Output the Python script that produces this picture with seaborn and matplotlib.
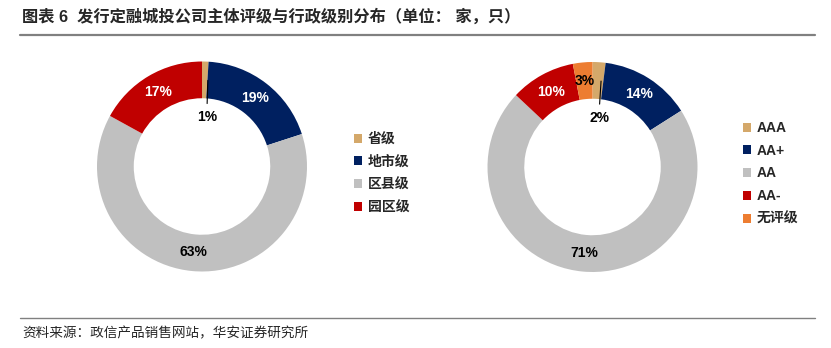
import numpy as np
import matplotlib
matplotlib.use("Agg")
import matplotlib.pyplot as plt
from matplotlib.lines import Line2D
import seaborn as sns

# ---- data ----
admin_labels = ["省级", "地市级", "区县级", "园区级"]
admin_values = [1, 19, 63, 17]
rating_labels = ["AAA", "AA+", "AA", "AA-", "无评级"]
rating_values = [2, 14, 71, 10, 3]

title = "图表 6  发行定融城投公司主体评级与行政级别分布（单位： 家，只）"
source = "资料来源：政信产品销售网站，华安证券研究所"

GOLD, NAVY, GREY, RED, ORANGE = "#D4A86A", "#002060", "#C0C0C0", "#C00000", "#ED7D31"
admin_colors = [GOLD, NAVY, GREY, RED]
rating_colors = [GOLD, NAVY, GREY, RED, ORANGE]
admin_txt = ["black", "white", "black", "white"]
rating_txt = ["black", "white", "black", "white", "black"]

sns.set_theme(style="white")
plt.rcParams["font.family"] = ["Liberation Sans", "Noto Sans CJK SC", "DejaVu Sans"]

W, H = 831, 348
fig = plt.figure(figsize=(W / 100, H / 100), dpi=100)


def px_axes(cx, cy, r):
    return fig.add_axes([(cx - r) / W, (H - cy - r) / H, 2 * r / W, 2 * r / H])


def donut(ax, values, colors, txtcolors, small_idx):
    wedges, _ = ax.pie(values, colors=colors, startangle=90, counterclock=False,
                       wedgeprops=dict(width=0.35, linewidth=0))
    for i, (w, v) in enumerate(zip(wedges, values)):
        ang = np.deg2rad((w.theta1 + w.theta2) / 2)
        if i in small_idx:
            x0, y0 = 0.82 * np.cos(ang), 0.82 * np.sin(ang)
            x1, y1 = 0.60 * np.cos(ang), 0.60 * np.sin(ang)
            ax.plot([x0 + 0.03, x1 + 0.03], [y0, y1], color="black", lw=0.8)
            ax.text(x1 + 0.03, 0.47, f"{v}%", ha="center", va="center",
                    fontsize=10, fontweight="bold", color="black")
        else:
            r = 0.82
            ax.text(r * np.cos(ang), r * np.sin(ang), f"{v}%", ha="center", va="center",
                    fontsize=10, fontweight="bold", color=txtcolors[i])
    ax.set_xlim(-1, 1)
    ax.set_ylim(-1, 1)
    ax.axis("off")
    return wedges


ax1 = px_axes(202, 166.5, 105)
w1 = donut(ax1, admin_values, admin_colors, admin_txt, [0])
ax2 = px_axes(592.5, 167, 105)
w2 = donut(ax2, rating_values, rating_colors, rating_txt, [0])

leg_kw = dict(loc="upper left", frameon=False, handlelength=0.6, handleheight=0.6,
              handletextpad=0.4, borderaxespad=0, borderpad=0, labelspacing=0.63,
              prop=dict(size=10, weight="bold"))
fig.legend(w1, admin_labels, bbox_to_anchor=(354 / W, 1 - 132 / H), **leg_kw)
fig.legend(w2, rating_labels, bbox_to_anchor=(743 / W, 1 - 121 / H), **leg_kw)

fig.text(22 / W, 1 - 17 / H, title, ha="left", va="center", fontsize=11.7,
         fontweight="bold", family=["Liberation Sans", "Noto Sans CJK SC"])
fig.add_artist(Line2D([20 / W, 815 / W], [1 - 35 / H] * 2, color="#808080", lw=1.6))
fig.add_artist(Line2D([20 / W, 815 / W], [1 - 318 / H] * 2, color="#808080", lw=1.0))
fig.text(22 / W, 1 - 333 / H, source, ha="left", va="center", fontsize=9.8,
         family=["Noto Sans CJK SC"])

fig.savefig("out.png", dpi=100)
